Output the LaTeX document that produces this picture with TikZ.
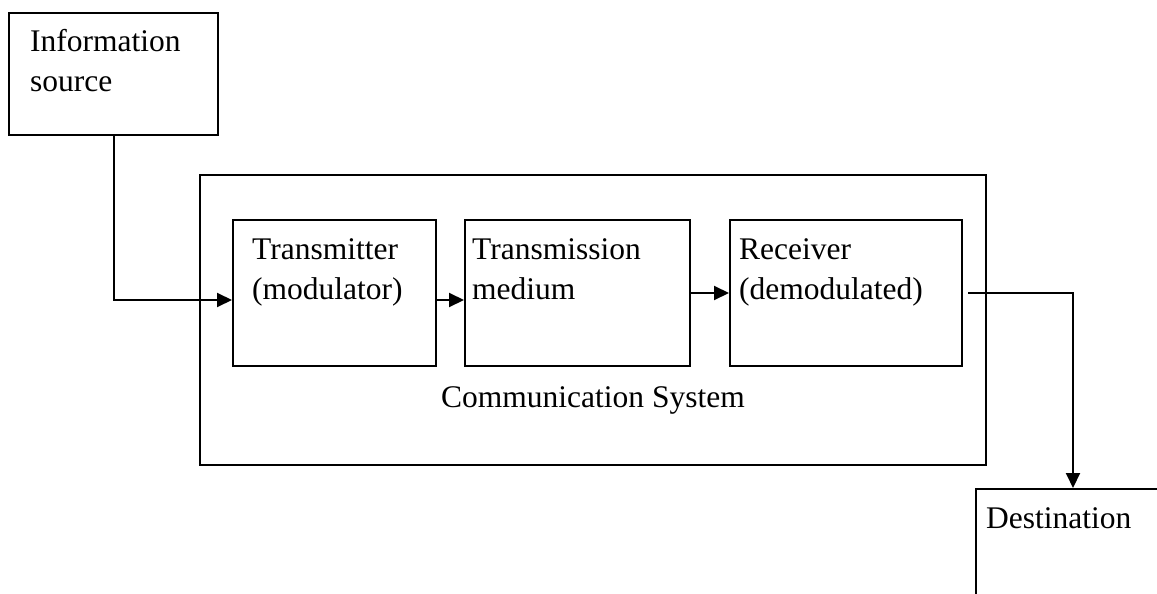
\documentclass[tikz,border=0pt]{standalone}
\usepackage{fontspec}
\setmainfont{Liberation Serif}
\usetikzlibrary{arrows.meta,calc}
\begin{document}
\begin{tikzpicture}[x=1pt,y=-1pt,
  box/.style={draw,line width=2pt,inner sep=0pt,anchor=north west},
  txt/.style={anchor=base west,inner sep=0pt,align=left,
    font=\fontsize{31.5}{40}\selectfont},
  link/.style={line width=2pt,-{Triangle[length=15pt,width=14pt]}}]
\useasboundingbox (0,0) rectangle (1157,594);
% blocks
\node[box,minimum width=209pt,minimum height=122pt] (src) at (8,12) {};
\node[box,minimum width=786pt,minimum height=290pt] (sys) at (199,174) {};
\node[box,minimum width=203pt,minimum height=146pt] (tx) at (232,219) {};
\node[box,minimum width=225pt,minimum height=146pt] (med) at (464,219) {};
\node[box,minimum width=232pt,minimum height=146pt] (rx) at (729,219) {};
\node[box,minimum width=260pt,minimum height=160pt] (dst) at (975,488) {};
% labels (anchored at the baseline of the last line)
\node[txt] (srcl) at (30,92) {Information\\source};
\node[txt] (txl) at (252,299) {Transmitter\\(modulator)};
\node[txt] (medl) at (472,299) {Transmission\\medium};
\node[txt] (rxl) at (739,299) {Receiver\\(demodulated)};
\node[txt] (sysl) at (441,407) {Communication System};
\node[txt] (dstl) at (986,528) {Destination};
% signal path
\coordinate (dstin) at (1073,488);
\draw[link] (src.south) |- ($(tx.west)+(0,7)$);
\draw[link] ($(tx.east)+(0,7)$) -- ($(med.west)+(0,7)$);
\draw[link] (med.east) -- (rx.west);
\draw[link] ($(rx.east)+(5,0)$) -| (dstin);
\end{tikzpicture}
\end{document}
